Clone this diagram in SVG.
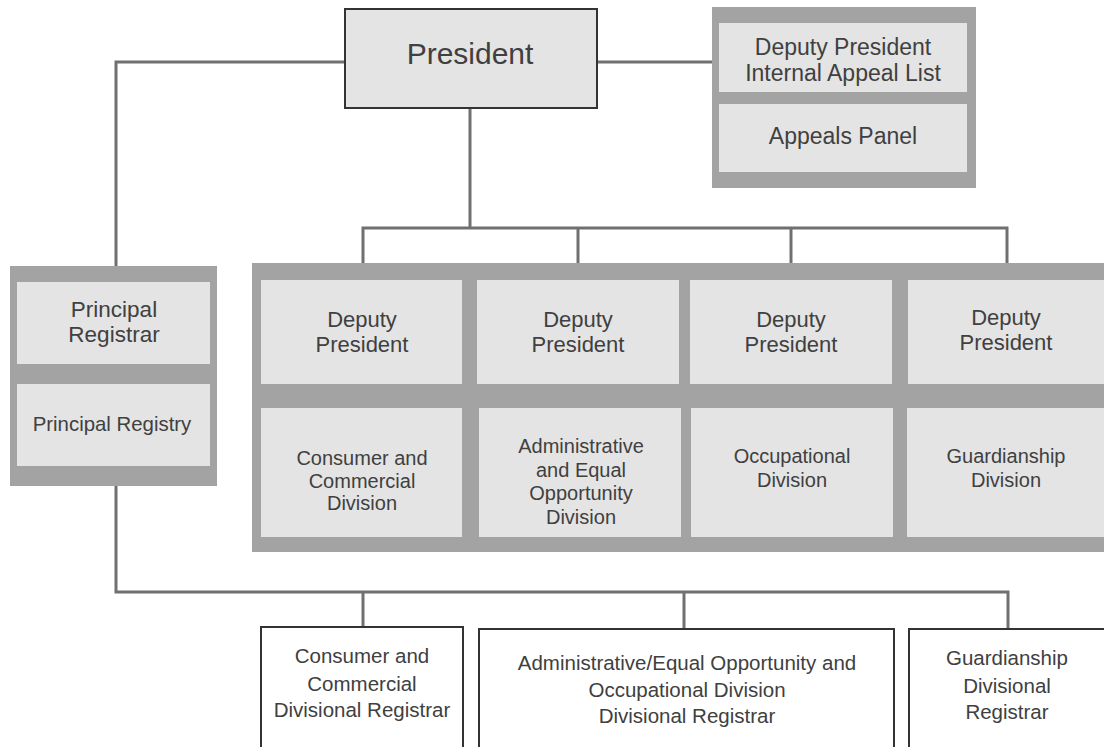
<svg xmlns="http://www.w3.org/2000/svg" width="1104" height="747" viewBox="0 0 1104 747">
<style>
.t{font-family:"Liberation Sans",Arial,sans-serif;fill:#404040;text-anchor:middle}
.outer{fill:#a3a3a3}
.inner{fill:#e4e4e4}
.box{fill:#ffffff;stroke:#333333;stroke-width:2}
.conn{fill:none;stroke:#707070;stroke-width:3}
.div{font-size:20px}
.reg{font-size:20.5px}
</style>
<rect width="1104" height="747" fill="#ffffff"/>
<g id="connectors">
<path class="conn" d="M345,62 H116 V267"/>
<path class="conn" d="M597,62 H712"/>
<path class="conn" d="M470,108 V228"/>
<path class="conn" d="M363,263 V228 H1007 V263"/>
<path class="conn" d="M578,228 V263"/>
<path class="conn" d="M791,228 V263"/>
<path class="conn" d="M116,486 V592 H1008 V629"/>
<path class="conn" d="M363,592 V627"/>
<path class="conn" d="M684,592 V629"/>
</g>
<g id="president">
<rect x="345" y="9" width="252" height="99" fill="#e4e4e4" stroke="#333333" stroke-width="2"/>
<text class="t" x="470" y="64" font-size="30">President</text>
</g>
<g id="appeals">
<rect class="outer" x="712" y="7" width="264" height="181"/>
<rect class="inner" x="719" y="23" width="248" height="69"/>
<text class="t" x="843" y="55" font-size="23">Deputy President</text>
<text class="t" x="843" y="81" font-size="23">Internal Appeal List</text>
<rect class="inner" x="719" y="104" width="248" height="68"/>
<text class="t" x="843" y="144" font-size="23">Appeals Panel</text>
</g>
<g id="principal">
<rect class="outer" x="10" y="266" width="207" height="220"/>
<rect class="inner" x="17" y="282" width="193" height="82"/>
<text class="t" x="114" y="317" font-size="22.5">Principal</text>
<text class="t" x="114" y="342" font-size="22.5">Registrar</text>
<rect class="inner" x="17" y="384" width="193" height="82"/>
<text class="t" x="112" y="431" font-size="20.4">Principal Registry</text>
</g>
<g id="deputies">
<rect class="outer" x="252" y="263" width="860" height="289"/>
<rect class="inner" x="261" y="280" width="201" height="104"/>
<text class="t" x="362" y="327" font-size="22">Deputy</text>
<text class="t" x="362" y="352" font-size="22">President</text>
<rect class="inner" x="477" y="280" width="202" height="104"/>
<text class="t" x="578" y="327" font-size="22">Deputy</text>
<text class="t" x="578" y="352" font-size="22">President</text>
<rect class="inner" x="690" y="280" width="202" height="104"/>
<text class="t" x="791" y="327" font-size="22">Deputy</text>
<text class="t" x="791" y="352" font-size="22">President</text>
<rect class="inner" x="908" y="280" width="210" height="104"/>
<text class="t" x="1006" y="325" font-size="22">Deputy</text>
<text class="t" x="1006" y="350" font-size="22">President</text>
<rect class="inner" x="261" y="408" width="201" height="129"/>
<text class="t div" x="362" y="465">Consumer and</text>
<text class="t div" x="362" y="488">Commercial</text>
<text class="t div" x="362" y="510">Division</text>
<rect class="inner" x="479" y="408" width="202" height="129"/>
<text class="t div" x="581" y="453">Administrative</text>
<text class="t div" x="581" y="477">and Equal</text>
<text class="t div" x="581" y="500">Opportunity</text>
<text class="t div" x="581" y="524">Division</text>
<rect class="inner" x="691" y="408" width="202" height="129"/>
<text class="t div" x="792" y="463">Occupational</text>
<text class="t div" x="792" y="487">Division</text>
<rect class="inner" x="907" y="408" width="210" height="129"/>
<text class="t div" x="1006" y="463">Guardianship</text>
<text class="t div" x="1006" y="487">Division</text>
</g>
<g id="registrar-cc">
<rect class="box" x="261" y="627" width="202" height="130"/>
<text class="t reg" x="362" y="663">Consumer and</text>
<text class="t reg" x="362" y="691">Commercial</text>
<text class="t reg" x="362" y="717">Divisional Registrar</text>
</g>
<g id="registrar-aeo">
<rect class="box" x="479" y="629" width="415" height="130"/>
<text class="t reg" x="687" y="670">Administrative/Equal Opportunity and</text>
<text class="t reg" x="687" y="697">Occupational Division</text>
<text class="t reg" x="687" y="723">Divisional Registrar</text>
</g>
<g id="registrar-g">
<rect class="box" x="909" y="629" width="210" height="130"/>
<text class="t reg" x="1007" y="665">Guardianship</text>
<text class="t reg" x="1007" y="693">Divisional</text>
<text class="t reg" x="1007" y="719">Registrar</text>
</g>
</svg>
